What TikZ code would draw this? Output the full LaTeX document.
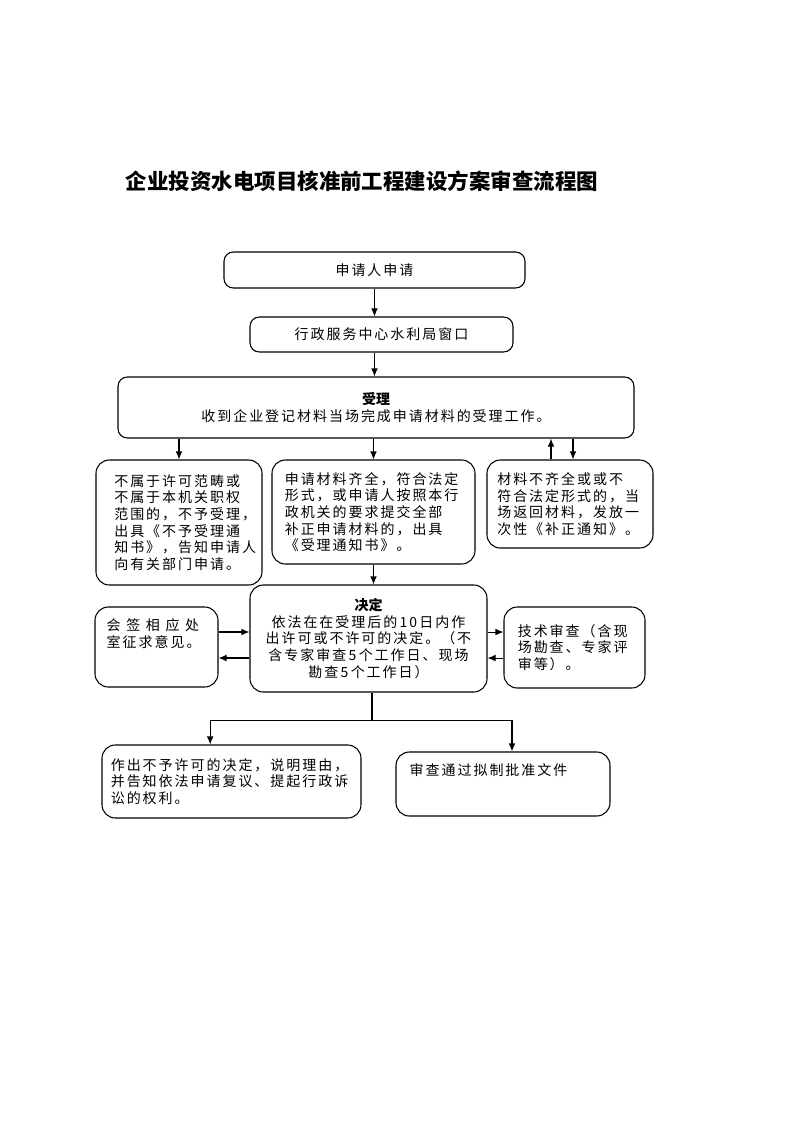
\documentclass[tikz,border=0pt]{standalone}
\usepackage{fontspec}
\usepackage{tikz}
\usetikzlibrary{arrows.meta}
\newfontfamily\cjk{Noto Sans CJK SC}
\newfontfamily\cjksp{Noto Sans CJK SC}[LetterSpace=14]
\newfontfamily\cjkwide{Noto Sans CJK SC}[LetterSpace=40]
\tikzset{
  box/.style={draw, line width=0.8pt, rounded corners=7pt, inner sep=0pt, font=\cjksp\fontsize{10.5}{12.5}\selectfont},
  txt/.style={inner sep=0pt, font=\cjksp\fontsize{10.5}{12.5}\selectfont},
  arr/.style={line width=0.8pt, -{Latex[length=6pt,width=5pt]}},
}

\begin{document}
\begin{tikzpicture}[x=0.75pt, y=-0.75pt]%
\useasboundingbox (0,0) rectangle (793,1122);%
\node[font=\cjk\bfseries\fontsize{16.1}{19}\selectfont] (title) at (362,181) {企业投资水电项目核准前工程建设方案审查流程图};%
\node[box, minimum width=225.75pt, minimum height=27pt] (req) at (374.5,270) {申请人申请};%
\node[box, minimum width=197.25pt, minimum height=26.25pt] (win) at (381.5,334.5) {行政服务中心水利局窗口};%
\node[box, minimum width=387pt, minimum height=45.75pt, align=center] (acc) at (376,407.5) {{\cjk\bfseries 受理}\\收到企业登记材料当场完成申请材料的受理工作。};%
\node[box, rounded corners=10pt, minimum width=124.5pt, minimum height=93.75pt, text width=97pt, align=left] (rej) at (179,522.5) {不属于许可范畴或\\不属于本机关职权\\范围的，不予受理，\\出具《不予受理通\\知书》，告知申请人\\向有关部门申请。};%
\node[box, rounded corners=10pt, minimum width=152.25pt, minimum height=78pt, text width=133pt, align=left] (ok) at (373.5,512) {申请材料齐全，符合法定\\形式，或申请人按照本行\\政机关的要求提交全部\\补正申请材料的，出具\\《受理通知书》。};%
\node[box, rounded corners=10pt, minimum width=124.5pt, minimum height=66pt, text width=109pt, align=left] (fix) at (570,504) {材料不齐全或或不\\符合法定形式的，当\\场返回材料，发放一\\次性《补正通知》。};%
\node[box, rounded corners=10pt, minimum width=177.75pt, minimum height=80.25pt, align=center] (dec) at (368.5,638.5) {{\cjk\bfseries 决定}\\依法在在受理后的\,10\,日内作\\出许可或不许可的决定。（不\\含专家审查\,5\,个工作日、现场\\勘查\,5\,个工作日）};%
\node[box, rounded corners=10pt, minimum width=92.25pt, minimum height=60pt] (sig) at (156.5,647) {};%
\node[txt, anchor=north west, align=left] (sigtxt) at ([xshift=9pt,yshift=-9pt]sig.north west) {{\cjkwide 会签相应处}\\室征求意见。};%
\node[box, rounded corners=10pt, minimum width=105.75pt, minimum height=60.75pt, text width=85pt, align=left] (tech) at (574.5,647.5) {技术审查（含现\\场勘查、专家评\\审等）。};%
\node[box, rounded corners=10pt, minimum width=194.25pt, minimum height=54.75pt, text width=181pt, align=left] (no) at (231.5,781.5) {作出不予许可的决定，说明理由，\\并告知依法申请复议、提起行政诉\\讼的权利。};%
\node[box, rounded corners=10pt, minimum width=160.5pt, minimum height=48pt] (pass) at (503,784) {};%
\node[txt, anchor=north west] (passtxt) at ([xshift=10.5pt,yshift=-9pt]pass.north west) {审查通过拟制批准文件};%
% arrows
\draw[arr] (req.south) -- (req.south |- win.north);%
\draw[arr] (win.south -| req.south) -- (req.south |- acc.north);%
\draw[arr] (acc.south -| rej.north) -- (rej.north);%
\draw[arr] (acc.south -| ok.north) -- (ok.north);%
\draw[arr] ([xshift=-14.25pt]fix.north) -- ([xshift=-14.25pt]fix.north |- acc.south);%
\draw[arr] ([xshift=2.25pt]fix.north |- acc.south) -- ([xshift=2.25pt]fix.north);%
\draw[arr] (ok.south) -- (ok.south |- dec.north);%
\draw[arr] ([yshift=11.25pt]sig.east) -- ([yshift=11.25pt]sig.east -| dec.west);%
\draw[arr] ([yshift=-8.25pt]sig.east -| dec.west) -- ([yshift=-8.25pt]sig.east);%
\draw[arr] ([yshift=11.6pt]tech.west -| dec.east) -- ([yshift=11.6pt]tech.west);%
\draw[arr] ([yshift=-7.9pt]tech.west) -- ([yshift=-7.9pt]tech.west -| dec.east);%
\coordinate (fork) at ([xshift=2.6pt,yshift=-21pt]dec.south);%
\draw[line width=0.8pt] (fork |- dec.south) -- (fork);%
\draw[arr] (fork) -| ([xshift=-16pt]no.north);%
\draw[arr] (fork) -| ([xshift=6.75pt]pass.north);%
\end{tikzpicture}
\end{document}
